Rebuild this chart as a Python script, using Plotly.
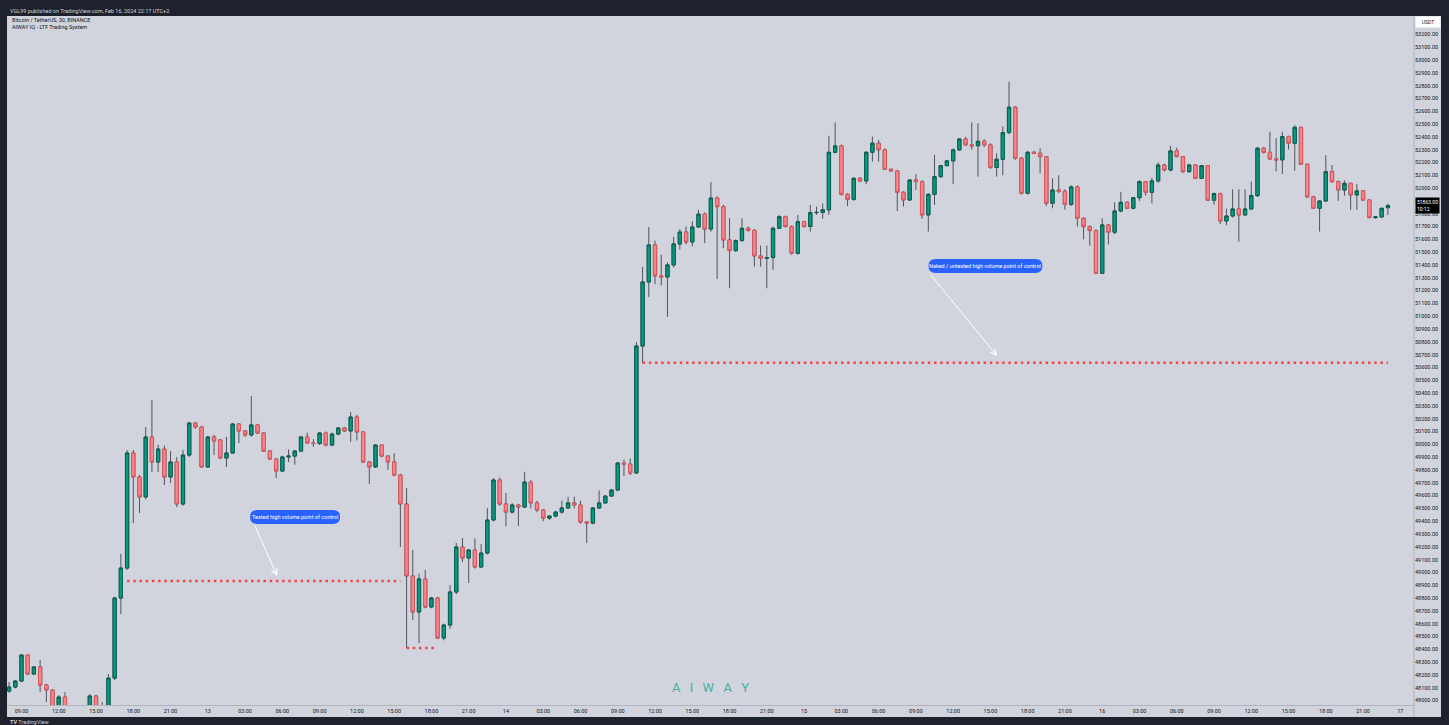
import pandas as pd
import plotly.graph_objects as go

# ---------------- data (30-minute BTC/USDT candles) ----------------
open_ = [48074, 48105, 48152, 48355, 48207, 48262, 48121, 48082, 47900, 48027,
         47930, 47850, 47880, 47900, 48035, 47940, 47960, 48175, 48800, 49034,
         49932, 49745, 49589, 50057, 49862, 49963, 49745, 49862, 49534, 49916,
         50166, 50135, 49823, 50057, 50034, 49893, 49932, 50158, 50104, 50073,
         50151, 50088, 49947, 49885, 49791, 49901, 49908, 49947, 50057, 50010,
         50006, 50088, 49994, 50080, 50127, 50104, 50213, 50096, 49862, 49823,
         49994, 49908, 49862, 49760, 49534, 48972, 48691, 48949, 48730, 48800,
         48488, 48589, 48847, 49198, 49112, 49175, 49042, 49151, 49409, 49721,
         49534, 49471, 49526, 49510, 49705, 49542, 49487, 49424, 49440, 49471,
         49503, 49542, 49526, 49393, 49385, 49503, 49542, 49596, 49643, 49854,
         49846, 49776, 50767, 51267, 51556, 51314, 51306, 51400, 51564, 51657,
         51579, 51696, 51797, 51680, 51922, 51855, 51595, 51512, 51590, 51686,
         51670, 51470, 51452, 51457, 51686, 51777, 51700, 51491, 51738, 51700,
         51808, 51810, 51830, 52279, 52329, 51951, 51912, 52076, 52056, 52279,
         52350, 52298, 52147, 52134, 51967, 51907, 52063, 52050, 51790, 51951,
         52089, 52175, 52212, 52298, 52383, 52337, 52330, 52365, 52337, 52160,
         52225, 52433, 52631, 52233, 51959, 52279, 52272, 52245, 51881, 51985,
         51975, 51873, 52009, 51764, 51699, 51668, 51335, 51712, 51655, 51821,
         51889, 51842, 51925, 52050, 51967, 52056, 52180, 52141, 52290, 52245,
         52128, 52180, 52076, 52175, 51905, 51957, 51743, 51782, 51837, 51790,
         51837, 51941, 52311, 52279, 52227, 52220, 52402, 52350, 52474, 52186,
         51931, 51842, 51899, 52128, 52050, 51985, 52037, 51946, 51978, 51907,
         51769, 51775, 51847]
high = [48144, 48160, 48360, 48360, 48265, 48316, 48130, 48090, 48043, 48066,
        47960, 47900, 47950, 48050, 48045, 47988, 48207, 48810, 49144, 49955,
        49955, 49760, 50135, 50346, 49996, 49990, 49947, 49900, 49955, 50170,
        50175, 50140, 50065, 50073, 50040, 50057, 50165, 50166, 50110, 50377,
        50160, 50095, 49955, 49890, 49910, 49960, 49955, 50065, 50090, 50040,
        50095, 50100, 50090, 50135, 50135, 50252, 50230, 50100, 49870, 50000,
        50000, 49915, 49930, 49770, 49659, 49175, 48990, 49020, 48810, 48810,
        48600, 48900, 49230, 49268, 49180, 49265, 49220, 49502, 49735, 49740,
        49620, 49540, 49535, 49784, 49720, 49560, 49495, 49445, 49480, 49560,
        49590, 49590, 49560, 49400, 49510, 49640, 49600, 49650, 49860, 49880,
        49890, 50798, 51384, 51696, 51590, 51480, 51420, 51620, 51680, 51700,
        51740, 51830, 51810, 52047, 51935, 51870, 51764, 51600, 51764, 51700,
        51680, 51551, 51551, 51700, 51790, 51785, 51710, 51790, 51745, 51868,
        51855, 51880, 52407, 52511, 52340, 51960, 52085, 52085, 52285, 52402,
        52376, 52310, 52150, 52140, 51975, 52070, 52110, 52063, 51960, 52259,
        52180, 52220, 52310, 52390, 52400, 52511, 52506, 52380, 52350, 52272,
        52480, 52831, 52640, 52240, 52290, 52290, 52310, 52250, 52076, 52100,
        51990, 52020, 52020, 51770, 51710, 51680, 51764, 51720, 51890, 51970,
        51895, 51930, 52060, 52055, 52080, 52200, 52190, 52330, 52315, 52250,
        52190, 52185, 52180, 52180, 51965, 51965, 51840, 51990, 51990, 51990,
        52050, 52320, 52320, 52440, 52390, 52440, 52410, 52490, 52480, 52190,
        51940, 51905, 52257, 52180, 52060, 52060, 52040, 52030, 51985, 51910,
        51780, 51845, 51880]
low = [48060, 48095, 48145, 48200, 48200, 48066, 47988, 47850, 47880, 47900,
       47800, 47760, 47840, 47880, 47900, 47900, 47940, 48160, 48675, 49020,
       49385, 49464, 49570, 49784, 49784, 49682, 49698, 49510, 49520, 49900,
       50120, 49820, 49815, 49916, 49885, 49823, 49925, 50010, 50060, 50060,
       50080, 49940, 49880, 49737, 49785, 49860, 49840, 49940, 50005, 49980,
       49995, 49985, 49985, 50070, 50095, 50020, 50030, 49855, 49690, 49815,
       49900, 49800, 49750, 49198, 48410, 48628, 48449, 48720, 48720, 48480,
       48470, 48560, 48830, 49080, 48917, 49030, 49035, 49140, 49400, 49520,
       49360, 49460, 49362, 49505, 49500, 49470, 49400, 49410, 49430, 49460,
       49495, 49500, 49380, 49230, 49375, 49495, 49535, 49590, 49635, 49750,
       49760, 49770, 50634, 51150, 51250, 51240, 50994, 51380, 51520, 51560,
       51545, 51690, 51571, 51660, 51290, 51530, 51218, 51500, 51580, 51660,
       51387, 51387, 51218, 51361, 51680, 51690, 51480, 51480, 51690, 51660,
       51790, 51760, 51790, 52272, 51940, 51860, 51900, 52050, 52030, 52206,
       52206, 52140, 52125, 51821, 51855, 51900, 51985, 51760, 51660, 51868,
       52080, 52170, 52030, 52290, 52330, 52300, 52089, 52320, 52150, 52089,
       52100, 52420, 52220, 51950, 51950, 52265, 52115, 51860, 51842, 51960,
       51830, 51860, 51700, 51600, 51550, 51330, 51330, 51560, 51640, 51810,
       51835, 51835, 51900, 51940, 51880, 52040, 52130, 52130, 52240, 52120,
       52120, 52070, 52070, 51900, 51870, 51720, 51710, 51770, 51582, 51785,
       51830, 51930, 52270, 52220, 52130, 52110, 52300, 52136, 52180, 51925,
       51840, 51660, 51895, 52040, 51900, 51940, 51830, 51830, 51900, 51765,
       51760, 51765, 51790]
close = [48105, 48152, 48355, 48207, 48262, 48121, 48082, 47900, 48027, 47930,
         47850, 47880, 47900, 48035, 47940, 47960, 48175, 48800, 49034, 49932,
         49745, 49589, 50057, 49862, 49963, 49745, 49862, 49534, 49916, 50166,
         50135, 49823, 50057, 50026, 49893, 49932, 50158, 50104, 50073, 50151,
         50088, 49947, 49885, 49791, 49901, 49908, 49947, 50057, 50010, 50006,
         50088, 49994, 50080, 50127, 50104, 50213, 50096, 49862, 49823, 49994,
         49908, 49862, 49760, 49534, 48972, 48691, 48949, 48730, 48800, 48488,
         48589, 48847, 49198, 49112, 49175, 49042, 49151, 49409, 49721, 49534,
         49471, 49526, 49510, 49705, 49542, 49487, 49424, 49440, 49471, 49503,
         49542, 49526, 49393, 49385, 49503, 49542, 49596, 49643, 49854, 49846,
         49776, 50767, 51267, 51556, 51314, 51306, 51400, 51564, 51657, 51579,
         51696, 51797, 51680, 51922, 51855, 51595, 51512, 51590, 51686, 51670,
         51470, 51452, 51457, 51686, 51777, 51700, 51491, 51738, 51700, 51808,
         51810, 51830, 52279, 52329, 51951, 51912, 52076, 52056, 52279, 52350,
         52298, 52147, 52134, 51967, 51907, 52063, 52050, 51790, 51951, 52089,
         52175, 52212, 52298, 52383, 52337, 52330, 52365, 52337, 52160, 52225,
         52433, 52631, 52233, 51959, 52279, 52272, 52245, 51881, 51985, 51975,
         51873, 52009, 51764, 51699, 51668, 51335, 51712, 51655, 51821, 51889,
         51842, 51925, 52050, 51967, 52056, 52180, 52141, 52290, 52245, 52128,
         52180, 52076, 52175, 51905, 51957, 51743, 51782, 51837, 51790, 51837,
         51941, 52311, 52279, 52227, 52220, 52402, 52350, 52474, 52186, 51931,
         51842, 51899, 52128, 52050, 51985, 52037, 51946, 51978, 51907, 51769,
         51775, 51842, 51863]

START = "2024-02-12 08:00"
times = pd.date_range(START, periods=len(close), freq="30min")

# point-of-control levels: (price, first bar index, last bar index)
poc_tested = (48933, 19, 63)
low_marker = (48410, 64, 69)
poc_naked = (50637, 102, 222)

y_tick_values = list(range(48000, 53201, 100))
x_tick_times = pd.date_range("2024-02-12 09:00", "2024-02-17 00:00", freq="3h")
x_tick_labels = [str(t.day) if t.hour == 0 else t.strftime("%H:%M") for t in x_tick_times]

header_text = "VGL99 published on TradingView.com, Feb 16, 2024 22:17 UTC+2"
symbol_text = "Bitcoin / TetherUS, 30, BINANCE"
indicator_text = "AIWAY IQ - LTF Trading System"
label_tested = "Tested high volume point of control"
label_naked = "Naked / untested high volume point of control"
countdown_text = "10:12"

# ---------------- layout geometry ----------------
W, H = 1449, 725
PL, PR, PT, PB = 7, 1414, 16, 705
DARK = "#1e222d"
BG = "#d1d4dc"
FONT = "Roboto"


def px(x):
    return (x - PL) / (PR - PL)


def py(y):
    return (PB - y) / (PB - PT)


def bar_time(k):
    return str(pd.Timestamp(START) + pd.Timedelta(minutes=30 * k))


def pill_path(w, h):
    a, b = w / 2, h / 2
    r = b
    return (f"M{-a + r},{-b} L{a - r},{-b} Q{a},{-b} {a},0 Q{a},{b} {a - r},{b} "
            f"L{-a + r},{b} Q{-a},{b} {-a},0 Q{-a},{-b} {-a + r},{-b} Z")


fig = go.Figure()

# wicks (grey)
fig.add_trace(go.Candlestick(
    x=times, open=open_, high=high, low=low, close=close,
    increasing=dict(line=dict(color="#50535e", width=1), fillcolor="rgba(0,0,0,0)"),
    decreasing=dict(line=dict(color="#50535e", width=1), fillcolor="rgba(0,0,0,0)"),
    whiskerwidth=0, hoverinfo="skip", showlegend=False))

# bodies
body_hi = [max(o, c) for o, c in zip(open_, close)]
body_lo = [min(o, c) for o, c in zip(open_, close)]
fig.add_trace(go.Candlestick(
    x=times, open=open_, high=body_hi, low=body_lo, close=close,
    increasing=dict(line=dict(color="#07604f", width=1), fillcolor="#089981"),
    decreasing=dict(line=dict(color="#e0555c", width=1), fillcolor="#f7868a"),
    whiskerwidth=0, hoverinfo="skip", showlegend=False))

# dotted POC lines
for price, a, b in (poc_tested, low_marker, poc_naked):
    fig.add_trace(go.Scatter(
        x=[times[a], times[b]], y=[price, price], mode="lines",
        line=dict(color="#f0474f", width=2.5, dash="2.5px,3.7px"),
        hoverinfo="skip", showlegend=False))

shapes = [
    # dark frame
    dict(type="rect", xref="paper", yref="paper", x0=px(-5), x1=px(W + 5), y0=py(PT), y1=py(-5),
         fillcolor=DARK, line=dict(width=0), layer="above"),
    dict(type="rect", xref="paper", yref="paper", x0=px(-5), x1=px(PL), y0=py(W), y1=py(-5),
         fillcolor=DARK, line=dict(width=0), layer="above"),
    dict(type="rect", xref="paper", yref="paper", x0=px(1441), x1=px(W + 5), y0=py(H + 5), y1=py(-5),
         fillcolor=DARK, line=dict(width=0), layer="above"),
    dict(type="rect", xref="paper", yref="paper", x0=px(-5), x1=px(W + 5), y0=py(H + 5), y1=py(717),
         fillcolor=DARK, line=dict(width=0), layer="above"),
    # axis separators
    dict(type="line", xref="paper", yref="paper", x0=px(PR), x1=px(PR), y0=py(PT), y1=py(717),
         line=dict(color="#b2b5be", width=1), layer="above"),
    # blue pills
    dict(type="path", xref="x", yref="y", xsizemode="pixel", ysizemode="pixel",
         xanchor=bar_time(46.05), yanchor=49432, path=pill_path(90, 14),
         fillcolor="#2962ff", line=dict(width=0), layer="above"),
    dict(type="path", xref="x", yref="y", xsizemode="pixel", ysizemode="pixel",
         xanchor=bar_time(157.2), yanchor=51392, path=pill_path(114, 14),
         fillcolor="#2962ff", line=dict(width=0), layer="above"),
]

annotations = [
    dict(xref="paper", yref="paper", x=px(8), y=py(11), xanchor="left", yanchor="middle",
         text=header_text, showarrow=False, font=dict(family=FONT, size=5.5, color="#d1d4dc")),
    dict(xref="paper", yref="paper", x=px(10), y=py(20), xanchor="left", yanchor="middle",
         text=symbol_text, showarrow=False, font=dict(family=FONT, size=5.5, color="#131722")),
    dict(xref="paper", yref="paper", x=px(10), y=py(27), xanchor="left", yanchor="middle",
         text=indicator_text, showarrow=False, font=dict(family=FONT, size=5.5, color="#131722")),
    dict(xref="paper", yref="paper", x=px(8), y=py(722), xanchor="left", yanchor="middle",
         text="<b>TV</b> TradingView", showarrow=False, font=dict(family=FONT, size=5.5, color="#d1d4dc")),
    dict(xref="paper", yref="paper", x=px(710), y=py(687), xanchor="center", yanchor="middle",
         text="A\u2002\u2009I\u2002\u2009W\u2002\u2009A\u2002\u2009Y", showarrow=False,
         font=dict(family=FONT, size=13, color="#45b0a6")),
    dict(xref="paper", yref="paper", x=px(1428), y=py(21.5), xanchor="center", yanchor="middle",
         text="USDT", showarrow=False, bgcolor="#ffffff", width=22, height=8,
         font=dict(family=FONT, size=5, color="#131722")),
    dict(xref="paper", yref="y", x=px(1415), y=close[-1], xanchor="left", yanchor="middle",
         text=f"{close[-1]:.2f}<br>{countdown_text}", showarrow=False, bgcolor="#000000",
         borderpad=1, align="left", font=dict(family=FONT, size=5, color="#ffffff")),
    # pill texts
    dict(x=bar_time(46.05), y=49432, text=label_tested, showarrow=False,
         font=dict(family=FONT, size=5.5, color="#ffffff")),
    dict(x=bar_time(157.2), y=51392, text=label_naked, showarrow=False,
         font=dict(family=FONT, size=5.5, color="#ffffff")),
    # arrows
    dict(x=bar_time(43.16), y=48972, ax=bar_time(39.45), ay=49378, axref="x", ayref="y",
         text="", showarrow=True, arrowhead=5, arrowsize=1.2, arrowwidth=1, arrowcolor="#ffffff"),
    dict(x=bar_time(159.1), y=50689, ax=bar_time(148.15), ay=51337, axref="x", ayref="y",
         text="", showarrow=True, arrowhead=5, arrowsize=1.2, arrowwidth=1, arrowcolor="#ffffff"),
]

fig.update_layout(
    width=W, height=H,
    margin=dict(l=PL, r=W - PR, t=PT, b=H - PB),
    paper_bgcolor=BG, plot_bgcolor=BG,
    boxgap=0.25,
    hovermode=False,
    showlegend=False,
    font=dict(family=FONT),
    shapes=shapes,
    annotations=annotations,
    xaxis=dict(
        type="date", range=["2024-02-12 07:50", "2024-02-17 01:06"],
        rangeslider=dict(visible=False),
        tickvals=[str(t) for t in x_tick_times], ticktext=x_tick_labels,
        tickfont=dict(family=FONT, size=5.5, color="#131722"),
        showgrid=False, zeroline=False, ticks="",
        showline=True, linecolor="#b2b5be", linewidth=1,
    ),
    yaxis=dict(
        side="right", range=[47965, 53343],
        tickvals=y_tick_values, ticktext=[f"{v:.2f}" for v in y_tick_values],
        tickfont=dict(family=FONT, size=5.5, color="#131722"),
        showgrid=False, zeroline=False, ticks="",
        showline=False,
    ),
)

fig.write_html("out.html")
